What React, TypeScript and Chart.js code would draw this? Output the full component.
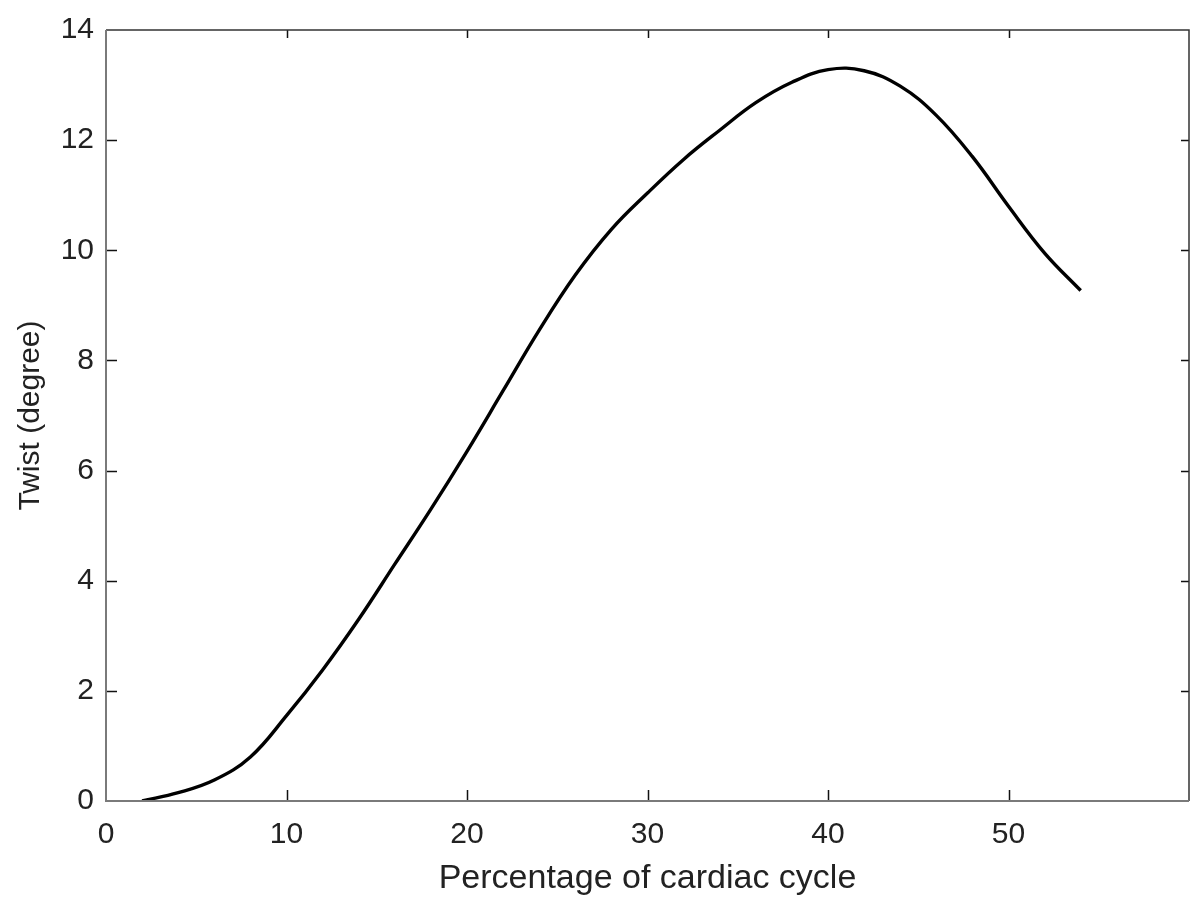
import React, { useEffect, useRef } from 'react';
import { Chart, registerables } from 'chart.js';

Chart.register(...registerables);

// Percentage of cardiac cycle (x) and twist in degrees (y)
const percentCycle = [2, 4, 6, 8, 10, 12, 14, 16, 18, 20, 22, 24, 26, 28, 30, 32, 34, 36, 38, 40, 42, 44, 46, 48, 50, 52, 54];
const twistDeg = [0, 0.15, 0.38, 0.8, 1.55, 2.38, 3.3, 4.3, 5.3, 6.35, 7.45, 8.55, 9.55, 10.38, 11.04, 11.65, 12.18, 12.68, 13.05, 13.28, 13.26, 12.98, 12.45, 11.7, 10.8, 9.95, 9.27];

const xTickValues = [0, 10, 20, 30, 40, 50];
const yTickValues = [0, 2, 4, 6, 8, 10, 12, 14];

const xTitle = 'Percentage of cardiac cycle';
const yTitle = 'Twist (degree)';

const framePlugin = {
  id: 'matlabFrame',
  afterDatasetsDraw(chart: any) {
    const { ctx, chartArea, scales } = chart;
    const { left, right, top, bottom } = chartArea;
    const xs = scales.x;
    const ys = scales.y;
    ctx.save();
    ctx.strokeStyle = '#111';
    ctx.lineWidth = 1.5;
    ctx.beginPath();
    xTickValues.forEach((v) => {
      const px = Math.round(xs.getPixelForValue(v)) + 0.5;
      if (px <= left + 2 || px >= right - 2) return;
      ctx.moveTo(px, bottom);
      ctx.lineTo(px, bottom - 11);
      ctx.moveTo(px, top);
      ctx.lineTo(px, top + 8);
    });
    yTickValues.forEach((v) => {
      const py = Math.round(ys.getPixelForValue(v)) + 0.5;
      if (py <= top + 2 || py >= bottom - 2) return;
      ctx.moveTo(left, py);
      ctx.lineTo(left + 11, py);
      ctx.moveTo(right, py);
      ctx.lineTo(right - 8, py);
    });
    ctx.stroke();

    ctx.lineWidth = 1.5;
    ctx.strokeStyle = '#333';
    ctx.beginPath();
    ctx.moveTo(left, top);
    ctx.lineTo(right, top);
    ctx.lineTo(right, bottom);
    ctx.stroke();

    ctx.lineWidth = 2;
    ctx.strokeStyle = '#7a7a7a';
    ctx.beginPath();
    ctx.moveTo(left, top);
    ctx.lineTo(left, bottom);
    ctx.lineTo(right, bottom);
    ctx.stroke();
    ctx.restore();
  },
};

export default function App() {
  const canvasRef = useRef<HTMLCanvasElement | null>(null);

  useEffect(() => {
    const canvas = canvasRef.current;
    if (!canvas) return;
    const chart = new Chart(canvas, {
      type: 'line',
      data: {
        datasets: [
          {
            data: percentCycle.map((x, i) => ({ x, y: twistDeg[i] })),
            borderColor: '#000',
            borderWidth: 3.4,
            pointRadius: 0,
            fill: false,
            tension: 0.4,
          },
        ],
      },
      options: {
        responsive: false,
        animation: false,
        layout: { padding: { left: 0, right: 11, top: 30, bottom: 0 } },
        plugins: { legend: { display: false }, tooltip: { enabled: false } },
        scales: {
          x: {
            type: 'linear',
            min: 0,
            max: 60,
            afterBuildTicks: (scale: any) => {
              scale.ticks = xTickValues.map((value) => ({ value }));
            },
            afterFit: (scale: any) => {
              scale.height = 108;
            },
            grid: { display: false, drawTicks: false },
            border: { display: false },
            ticks: {
              padding: 16,
              maxRotation: 0,
              color: '#222',
              font: { family: '"Liberation Sans", Arial, sans-serif', size: 30 },
            },
            title: {
              display: true,
              text: xTitle,
              color: '#222',
              padding: { top: 0, bottom: 10 },
              font: { family: '"Liberation Sans", Arial, sans-serif', size: 34 },
            },
          },
          y: {
            type: 'linear',
            min: 0,
            max: 14,
            afterBuildTicks: (scale: any) => {
              scale.ticks = yTickValues.map((value) => ({ value }));
            },
            afterFit: (scale: any) => {
              scale.width = 106;
            },
            grid: { display: false, drawTicks: false },
            border: { display: false },
            ticks: {
              padding: 12,
              color: '#222',
              font: { family: '"Liberation Sans", Arial, sans-serif', size: 30 },
            },
            title: {
              display: true,
              text: yTitle,
              color: '#222',
              padding: { top: 13, bottom: 0 },
              font: { family: '"Liberation Sans", Arial, sans-serif', size: 30 },
            },
          },
        },
      },
      plugins: [framePlugin],
    });
    return () => chart.destroy();
  }, []);

  return (
    <div style={{ position: 'absolute', left: 0, top: 0, width: 1200, height: 909, background: '#fff' }}>
      <canvas ref={canvasRef} width={1200} height={909} style={{ display: 'block' }} />
    </div>
  );
}
